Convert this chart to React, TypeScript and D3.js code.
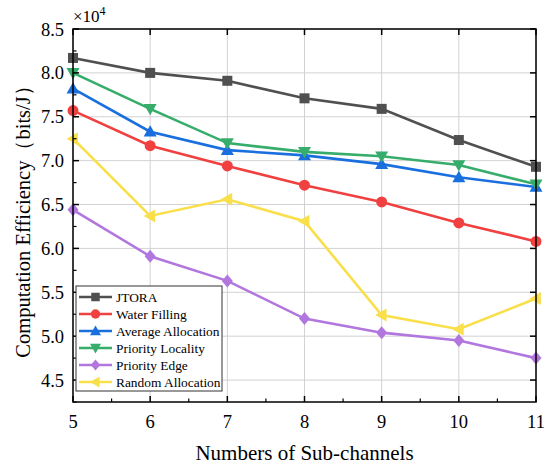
import * as d3 from "d3";

const xValues = [5, 6, 7, 8, 9, 10, 11];
const jtora = [8.17, 8.0, 7.91, 7.71, 7.59, 7.235, 6.93];
const waterFilling = [7.57, 7.17, 6.94, 6.72, 6.53, 6.29, 6.08];
const averageAllocation = [7.82, 7.33, 7.12, 7.06, 6.96, 6.81, 6.7];
const priorityLocality = [8.0, 7.59, 7.2, 7.1, 7.05, 6.95, 6.73];
const priorityEdge = [6.44, 5.91, 5.63, 5.2, 5.04, 4.95, 4.75];
const randomAllocation = [7.25, 6.37, 6.56, 6.31, 5.24, 5.08, 5.43];

const xTicks = [5, 6, 7, 8, 9, 10, 11];
const yTicks = [4.5, 5.0, 5.5, 6.0, 6.5, 7.0, 7.5, 8.0, 8.5];

const series = [
  { name: "JTORA", values: jtora, color: "#505050", marker: "square" },
  { name: "Water Filling", values: waterFilling, color: "#f14040", marker: "circle" },
  { name: "Average Allocation", values: averageAllocation, color: "#1a6fdf", marker: "triangleUp" },
  { name: "Priority Locality", values: priorityLocality, color: "#37ad6b", marker: "triangleDown" },
  { name: "Priority Edge", values: priorityEdge, color: "#b177de", marker: "diamond" },
  { name: "Random Allocation", values: randomAllocation, color: "#f9df4a", marker: "triangleLeft" },
];

const font = "Liberation Serif";

function Marker({ type, cx, cy, color, s = 1 }) {
  if (type === "square") {
    const h = 5 * s;
    return <rect x={cx - h} y={cy - h} width={2 * h} height={2 * h} fill={color} />;
  }
  if (type === "circle") return <circle cx={cx} cy={cy} r={5.5 * s} fill={color} />;
  const r = 6.5 * s;
  let pts;
  if (type === "triangleUp") pts = [[0, -r], [r, r * 0.75], [-r, r * 0.75]];
  else if (type === "triangleDown") pts = [[0, r], [r, -r * 0.75], [-r, -r * 0.75]];
  else if (type === "triangleLeft") pts = [[-r, 0], [r * 0.75, -r], [r * 0.75, r]];
  else pts = [[0, -r], [r * 0.85, 0], [0, r], [-r * 0.85, 0]];
  return <polygon points={pts.map(([a, b]) => `${cx + a},${cy + b}`).join(" ")} fill={color} />;
}

export default function App() {
  const width = 548;
  const height = 465;
  const margin = { top: 29, right: 12, bottom: 63, left: 73 };
  const x = d3.scaleLinear().domain([5, 11]).range([margin.left, width - margin.right]);
  const y = d3.scaleLinear().domain([4.25, 8.5]).range([height - margin.bottom, margin.top]);
  const [x0, x1] = x.range();
  const [y0, y1] = y.range();

  const line = d3
    .line<number>()
    .x((_, i) => x(xValues[i]))
    .y((d) => y(d));

  const xMinor = d3.range(5.5, 11, 1);
  const yMinor = d3.range(4.25, 8.5, 0.5);

  const legendX = 76;
  const legendY = 286;
  const legendRow = 17;

  return (
    <div style={{ position: "absolute", left: 0, top: 0 }}>
      <svg width={width} height={height} style={{ display: "block" }}>
        <rect width={width} height={height} fill="#fff" />
        {/* grid */}
        {xTicks.map((t) => (
          <line key={`gx${t}`} x1={x(t)} x2={x(t)} y1={y0} y2={y1} stroke="#d2d2d2" strokeWidth={1} />
        ))}
        {yTicks.map((t) => (
          <line key={`gy${t}`} x1={x0} x2={x1} y1={y(t)} y2={y(t)} stroke="#d2d2d2" strokeWidth={1} />
        ))}
        {/* series */}
        {series.map((s) => (
          <g key={s.name}>
            <path d={line(s.values) || ""} fill="none" stroke={s.color} strokeWidth={2.6} />
            {s.values.map((v, i) => (
              <Marker key={i} type={s.marker} cx={x(xValues[i])} cy={y(v)} color={s.color} />
            ))}
          </g>
        ))}
        {/* frame */}
        <rect x={x0} y={y1} width={x1 - x0} height={y0 - y1} fill="none" stroke="#000" strokeWidth={1.5} />
        <g fontFamily={font} fill="#000">
          {/* ticks */}
          {xTicks.map((t) => (
            <g key={`tx${t}`}>
              <line x1={x(t)} x2={x(t)} y1={y0} y2={y0 - 6} stroke="#000" strokeWidth={1.5} />
              <line x1={x(t)} x2={x(t)} y1={y1} y2={y1 + 6} stroke="#000" strokeWidth={1.5} />
              <text x={x(t)} y={y0 + 26} textAnchor="middle" fontSize={18.5} fontFamily={font}>
                {t}
              </text>
            </g>
          ))}
          {xMinor.map((t) => (
            <line key={`mx${t}`} x1={x(t)} x2={x(t)} y1={y0} y2={y0 - 3.5} stroke="#000" strokeWidth={1.2} />
          ))}
          {yTicks.map((t) => (
            <g key={`ty${t}`}>
              <line x1={x0} x2={x0 + 6} y1={y(t)} y2={y(t)} stroke="#000" strokeWidth={1.5} />
              <line x1={x1} x2={x1 - 6} y1={y(t)} y2={y(t)} stroke="#000" strokeWidth={1.5} />
              <text x={x0 - 9} y={y(t) + 6.5} textAnchor="end" fontSize={18.5} fontFamily={font}>
                {t.toFixed(1)}
              </text>
            </g>
          ))}
          {yMinor.map((t) => (
            <line key={`my${t}`} x1={x0} x2={x0 + 3.5} y1={y(t)} y2={y(t)} stroke="#000" strokeWidth={1.2} />
          ))}
          {/* exponent */}
          <text x={x0} y={22} fontSize={17} fontFamily={font}>
            ×10
            <tspan dy={-7} fontSize={12}>
              4
            </tspan>
          </text>
          {/* axis titles */}
          <text x={(x0 + x1) / 2} y={460} textAnchor="middle" fontSize={21} fontFamily={font}>
            Numbers of Sub-channels
          </text>
          <text
            transform={`translate(30,${(y0 + y1) / 2 + 1}) rotate(-90)`}
            textAnchor="middle"
            fontSize={20.5}
            fontFamily={font}
          >
            Computation Efficiency（bits/J）
          </text>
          {/* legend */}
          <rect
            x={legendX}
            y={legendY}
            width={146}
            height={105}
            fill="#fff"
            stroke="#333"
            strokeWidth={1}
          />
          {series.map((s, i) => {
            const cy = legendY + 11 + i * legendRow;
            return (
              <g key={`lg${s.name}`}>
                <line x1={legendX + 3} x2={legendX + 36} y1={cy} y2={cy} stroke={s.color} strokeWidth={2.6} />
                <Marker type={s.marker} cx={legendX + 19.5} cy={cy} color={s.color} s={0.85} />
                <text x={legendX + 40} y={cy + 4.5} fontSize={13.4} fontFamily={font}>
                  {s.name}
                </text>
              </g>
            );
          })}
        </g>
      </svg>
    </div>
  );
}
